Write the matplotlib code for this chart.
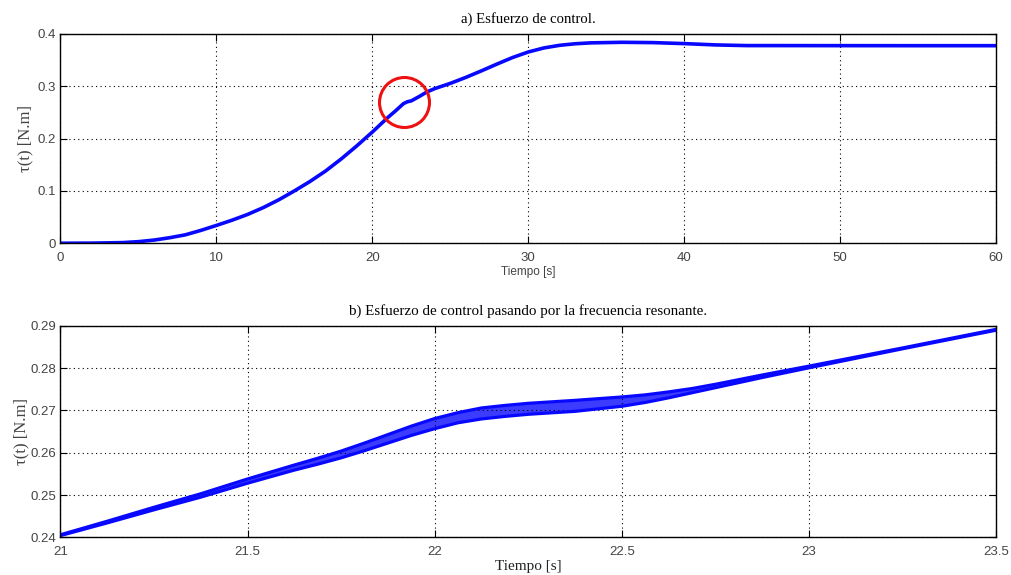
import numpy as np
import matplotlib
matplotlib.use('Agg')
import matplotlib.pyplot as plt

# a) esfuerzo de control completo
t_a = [0, 2, 4, 5, 6, 7, 8, 9, 10, 11, 12, 13, 14, 15, 16, 17, 18, 19, 20, 21, 21.5,
       22, 22.25, 22.5, 23, 23.5, 24, 25, 26, 27, 28, 29, 30, 31, 32, 33, 34, 36, 38,
       40, 42, 44, 46, 50, 55, 60]
tau_a = [0, 0.0002, 0.0012, 0.003, 0.006, 0.0105, 0.016, 0.0245, 0.034, 0.044, 0.055,
         0.068, 0.083, 0.1, 0.118, 0.138, 0.161, 0.186, 0.2125, 0.2405, 0.2533, 0.2669,
         0.2704, 0.2721, 0.2803, 0.2891, 0.2955, 0.3055, 0.317, 0.3295, 0.3425, 0.355,
         0.3655, 0.3732, 0.3782, 0.3812, 0.3829, 0.384, 0.3834, 0.3815, 0.379, 0.3777,
         0.3777, 0.3776, 0.3775, 0.3775]

# b) zoom alrededor de la resonancia: valor medio y semi-amplitud de la oscilacion
t_b = [21.0, 21.125, 21.25, 21.375, 21.5, 21.625, 21.6875, 21.75, 21.8125, 21.875,
       21.9375, 22.0, 22.0625, 22.125, 22.1875, 22.25, 22.375, 22.5, 22.5625, 22.625,
       22.6875, 22.75, 22.875, 23.0, 23.25, 23.5]
tau_b = [0.2405, 0.2436, 0.2468, 0.2499, 0.2533, 0.2565, 0.2580, 0.2596, 0.2614, 0.2633,
         0.2652, 0.2669, 0.2683, 0.2693, 0.2699, 0.2704, 0.2711, 0.2721, 0.2728, 0.2737,
         0.2747, 0.2758, 0.2781, 0.2803, 0.2847, 0.2891]
amp_b = [0.0001, 0.0002, 0.0003, 0.0004, 0.0005, 0.0006, 0.0007, 0.0008, 0.0009, 0.0010,
         0.0011, 0.0012, 0.0012, 0.0013, 0.0013, 0.0013, 0.0013, 0.0011, 0.0009, 0.0007,
         0.0005, 0.0004, 0.0003, 0.0002, 0.0001, 0.0001]

xticks_a = [0, 10, 20, 30, 40, 50, 60]
yticks_a = [0, 0.1, 0.2, 0.3, 0.4]
xticks_b = [21, 21.5, 22, 22.5, 23, 23.5]
yticks_b = [0.24, 0.25, 0.26, 0.27, 0.28, 0.29]

azul = '#0808ff'
gris = '#444444'
serif = 'Liberation Serif'
sans = 'Liberation Sans'

fig = plt.figure(figsize=(10.11, 5.75), dpi=100)
ax1 = fig.add_axes([0.0598, 0.577, 0.9255, 0.364])
ax2 = fig.add_axes([0.0598, 0.0656, 0.9255, 0.3675])

def estilo(ax, xt, yt, xlim, ylim):
    ax.set_xlim(xlim)
    ax.set_ylim(ylim)
    ax.set_xticks(xt)
    ax.set_yticks(yt)
    ax.set_xticklabels([f'{v:g}' for v in xt], fontfamily=sans, fontsize=9.5, color=gris)
    ax.set_yticklabels([f'{v:g}' for v in yt], fontfamily=sans, fontsize=9.5, color=gris)
    ax.tick_params(direction='in', length=5, width=0.8, top=True, right=True)
    ax.tick_params(axis='x', pad=6)
    ax.tick_params(axis='y', pad=3)
    ax.grid(True, linestyle=(0, (1, 3)), color='black', linewidth=0.8)
    for s in ax.spines.values():
        s.set_linewidth(1.0)
        s.set_color('black')

# grafico a
ax1.plot(t_a, tau_a, color=azul, linewidth=2.6)
ax1.plot(22.0, 0.269, 'o', ms=36, mfc='none', mec='#ee1111', mew=2.2)
estilo(ax1, xticks_a, yticks_a, (0, 60), (0, 0.4))
ax1.set_title('a) Esfuerzo de control.', fontfamily=serif, fontsize=10.6, pad=8)
ax1.set_xlabel('Tiempo [s]', fontfamily=sans, fontsize=8.5, color=gris, labelpad=2)
ax1.set_ylabel('τ(t) [N.m]', fontfamily=serif, fontsize=12, color=gris, labelpad=3)

# grafico b
t_b = np.array(t_b)
tau_b = np.array(tau_b)
amp_b = np.array(amp_b)
ax2.fill_between(t_b, tau_b - amp_b, tau_b + amp_b, facecolor='#3c3cff', linewidth=0)
ax2.plot(t_b, tau_b + amp_b, color=azul, linewidth=2.3)
ax2.plot(t_b, tau_b - amp_b, color=azul, linewidth=2.3)
estilo(ax2, xticks_b, yticks_b, (21, 23.5), (0.24, 0.29))
ax2.set_title('b) Esfuerzo de control pasando por la frecuencia resonante.',
              fontfamily=serif, fontsize=10.8, pad=8)
ax2.set_xlabel('Tiempo [s]', fontfamily=serif, fontsize=11, color='#222222', labelpad=2)
ax2.set_ylabel('τ(t) [N.m]', fontfamily=serif, fontsize=12, color=gris, labelpad=1)

fig.savefig('out.png', dpi=100)
